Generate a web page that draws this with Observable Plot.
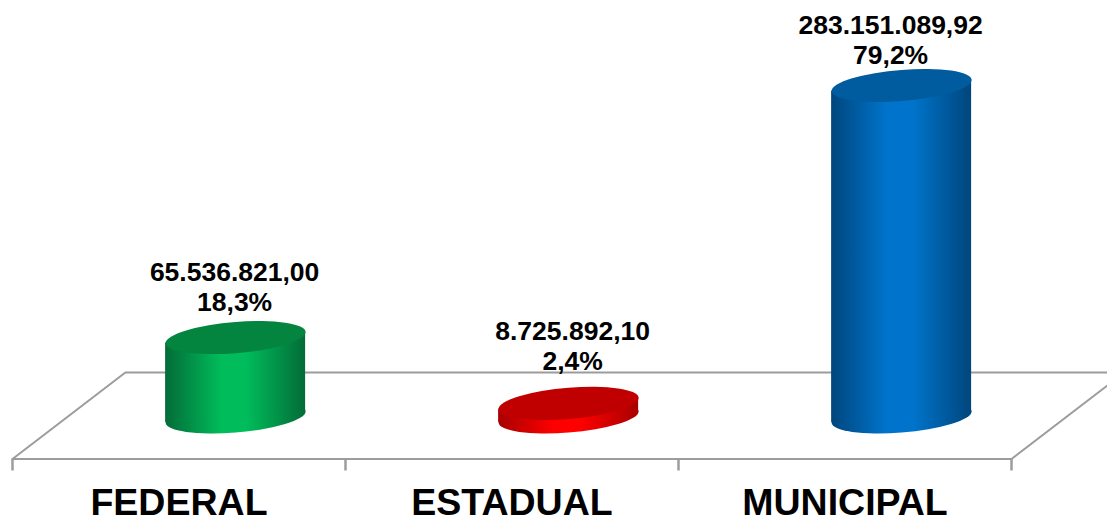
<!DOCTYPE html>
<html><head><meta charset="utf-8">
<script src="https://cdn.jsdelivr.net/npm/d3@7"></script>
<script src="https://cdn.jsdelivr.net/npm/@observablehq/plot@0.6"></script>
<style>html,body{margin:0;padding:0;background:#fff;overflow:hidden}svg{display:block}</style>
</head><body><div id="chart"></div>
<script>
const categories = ["FEDERAL", "ESTADUAL", "MUNICIPAL"];
const values = [65536821.00, 8725892.10, 283151089.92];
const shares = [18.3, 2.4, 79.2];
const sideEdge = ["#036c38", "#a80000", "#00467c"];
const sideMid = ["#00bc5a", "#ff0000", "#0074cc"];
const topColor = ["#03853f", "#c00000", "#005c9e"];

const fmtValue = v => new Intl.NumberFormat("pt-BR", {minimumFractionDigits: 2, maximumFractionDigits: 2}).format(v);
const fmtShare = s => s.toFixed(1).replace(".", ",") + "%";

const depth = 0.67;           // cylinders stand this far into the floor's depth
const halfWidth = 70 / 333;   // half a cylinder, in category units
const base = -3000000;        // where the cylinders' bases sit on the floor
const floorFront = -39300000, floorBack = 35400000;
const floorLeft = {x: [3, 0, 0.339, 3.288], y: [floorFront, floorFront, floorBack, floorBack]};
const floorRight = {x: [3, 3.288], y: [floorFront, 24200000]};
const seq = a => a.x.map((x, i) => ({x, y: a.y[i]}));

const tanTilt = 5.5 / 70, squash = 15.6 / 70;
const tiltDot = (I, s, v, d, c, next) => {
  const g = next(I, s, v, d, c);
  g.querySelectorAll("circle").forEach(e => {
    const cx = +e.getAttribute("cx"), cy = +e.getAttribute("cy");
    e.setAttribute("transform", `translate(${cx},${cy}) matrix(1,${-tanTilt},0,${squash},0,0) translate(${-cx},${-cy})`);
  });
  return g;
};
const skewRect = (I, s, v, d, c, next) => {
  const g = next(I, s, v, d, c);
  g.querySelectorAll("rect").forEach(e => {
    const cx = +e.getAttribute("x") + e.getAttribute("width") / 2;
    e.setAttribute("transform", `matrix(1,${-tanTilt},0,1,0,${tanTilt * cx})`);
  });
  return g;
};

const defs = () => {
  const d = d3.create("svg:defs");
  categories.forEach((c, i) => {
    const g = d.append("linearGradient").attr("id", "side" + i).attr("x1", 0).attr("x2", 1).attr("y1", 0).attr("y2", 0);
    [[0, sideEdge[i]], [0.4, sideMid[i]], [0.58, sideMid[i]], [1, sideEdge[i]]].forEach(([o, col]) =>
      g.append("stop").attr("offset", o).attr("stop-color", col));
  });
  return d.node();
};

const labelDx = [-1, 4, -11];
const labelDy = [-26.7, -33.1, -22];

const cylinders = categories.flatMap((c, i) => {
  const row = [{c, value: values[i], x: i + depth}];
  return [
    Plot.dot(row, {x: "x", y: base, r: 70, fill: `url(#side${i})`, render: tiltDot}),
    Plot.rectY(row, {x1: d => d.x - halfWidth, x2: d => d.x + halfWidth, y1: base, y2: "value", fill: `url(#side${i})`, render: skewRect}),
    Plot.dot(row, {x: "x", y: "value", r: 70, fill: topColor[i], render: tiltDot}),
    Plot.text(row, {
      x: "x", y: "value", text: () => fmtValue(values[i]) + "\n" + fmtShare(shares[i]),
      dx: labelDx[i], dy: labelDy[i], lineAnchor: "bottom", lineHeight: 1.13,
      fontSize: 26.5, fontWeight: "bold", fill: "#000"
    })
  ];
});

const plot = Plot.plot({
  width: 1107, height: 517,
  marginTop: 0, marginRight: 96, marginBottom: 58.5, marginLeft: 12,
  style: {fontFamily: "'Liberation Sans', Arial, sans-serif", background: "#fff", overflow: "visible"},
  x: {domain: [0, 3], range: [12, 1011], axis: null},
  y: {domain: [0, 283151089.92], range: [413, 85], axis: null},
  marks: [
    defs,
    Plot.line(seq(floorLeft), {x: "x", y: "y", stroke: "#9c9c9c", strokeWidth: 2, clip: false}),
    Plot.line(seq(floorRight), {x: "x", y: "y", stroke: "#9c9c9c", strokeWidth: 2, clip: false}),
    Plot.axisX({ticks: [0, 1, 2, 3], tickSize: 12, tickFormat: null, stroke: "#9c9c9c", strokeWidth: 2.5, label: null, text: null}),
    Plot.axisX({ticks: [0.5, 1.5, 2.5], tickSize: 0, tickPadding: 29, tickFormat: d => categories[Math.floor(d)],
      fontSize: 37.5, fontWeight: "bold", fill: "#000", label: null, lineAnchor: "top"}),
    ...cylinders
  ]
});
document.getElementById("chart").append(plot);
</script></body></html>
